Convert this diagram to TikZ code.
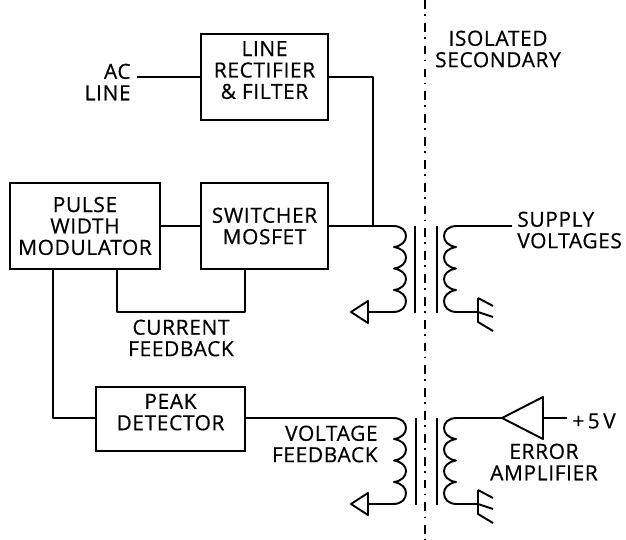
\documentclass[tikz,border=0pt]{standalone}
\usepackage{fontspec}
\setmainfont[LetterSpace=3,FakeBold=0.5]{Open Sans}
\usetikzlibrary{positioning}

\tikzset{
    block/.style={draw, line width=1.1pt, align=center, inner sep=0pt, outer sep=0pt, anchor=north west},
    label/.style={align=center, inner sep=0pt, font=\fontsize{11.9}{12.2}\selectfont},
    wire/.style={line width=1.1pt, line join=round},
    pics/winding/.style={code={
        \draw[wire] (0,0) .. controls (9,0) and (13,5) .. (13,10) .. controls (13,15) and (9,20) .. (1,21)
            \foreach \i in {1,2}{ .. controls (9,21.5*\i+1) and (13,21.5*\i+5) .. (13,21.5*\i+10) .. controls (13,21.5*\i+15) and (9,21.5*\i+20) .. (1,21.5*\i+21) }
            .. controls (9,65.5) and (13,70) .. (13,75) .. controls (13,81) and (9,86) .. (0,86);
    }},
    pics/earth/.style={code={
        \draw[wire] (0,-14) -- (0,10) -- (15,19);
        \draw[wire] (0,-14) -- (15,-6);
        \draw[wire] (0,0) -- (15,5);
    }},
    pics/returntip/.style={code={
        \draw[wire] (0,-11) -- (0,11) -- (-17,0) -- cycle;
    }},
}

\begin{document}
\begin{tikzpicture}[x=0.02cm, y=-0.02cm]
    \useasboundingbox (0,0) rectangle (626,540);

    % Blocks
    \node[block, label, minimum width=127*0.02cm, minimum height=86*0.02cm] (rectifier) at (201,34) {LINE\\RECTIFIER\\\& FILTER\\[-0.15cm]\mbox{}};
    \node[block, label, minimum width=150*0.02cm, minimum height=86*0.02cm] (modulator) at (10,183) {PULSE\\WIDTH\\MODULATOR};
    \node[block, label, minimum width=127*0.02cm, minimum height=86*0.02cm] (switcher) at (201,183) {SWITCHER\\MOSFET};
    \node[block, label, minimum width=149*0.02cm, minimum height=64*0.02cm] (detector) at (96,387) {PEAK\\DETECTOR\\[-0.15cm]\mbox{}};

    % Labels
    \node[label, align=right, anchor=east] (acline) at (131,82) {AC\\LINE};
    \node[label] (isolated) at (498,49) {ISOLATED\\SECONDARY};
    \node[label, align=left, anchor=west] (supply) at (517,230) {SUPPLY\\VOLTAGES};
    \node[label] (current) at (181,338) {CURRENT\\FEEDBACK};
    \node[label, align=right, anchor=east] (voltage) at (378,444) {VOLTAGE\\FEEDBACK};
    \node[label] (error) at (544,462) {ERROR\\AMPLIFIER};
    \node[label, anchor=west] (plusfive) at (572,421) {+\,5\,V};

    % Isolation line
    \draw[line width=1pt, dash pattern=on 5pt off 3pt on 1pt off 4pt] (425,0) -- (425,540);

    % Upper transformer
    \coordinate (priTop) at (393,226);
    \coordinate (priEnd) at (393,312);
    \coordinate (secTop) at (457,226);
    \coordinate (secEnd) at (457,312);
    \pic at (priTop) {winding};
    \pic[xscale=-1] at (secTop) {winding};
    \draw[wire] (415,226) -- (415,313);
    \draw[wire] (437,226) -- (437,313);

    % Lower transformer
    \coordinate (fbTop) at (393,418);
    \coordinate (fbEnd) at (393,504);
    \coordinate (ampTop) at (457,418);
    \coordinate (ampEnd) at (457,504);
    \pic at (fbTop) {winding};
    \pic[xscale=-1] at (ampTop) {winding};
    \draw[wire] (416,418) -- (416,505);
    \draw[wire] (437,418) -- (437,505);

    % Returns
    \coordinate (tipA) at (368,312);
    \coordinate (tipB) at (368,504);
    \coordinate (earthA) at (478,312);
    \coordinate (earthB) at (478,504);
    \pic at (tipA) {returntip};
    \pic at (tipB) {returntip};
    \pic at (earthA) {earth};
    \pic at (earthB) {earth};
    \draw[wire] (priEnd) -- (tipA);
    \draw[wire] (fbEnd) -- (tipB);
    \draw[wire] (secEnd) -- (earthA);
    \draw[wire] (ampEnd) -- (earthB);

    % Amplifier
    \coordinate (ampTip) at (502,418);
    \coordinate (ampOut) at (543,418);
    \coordinate (plusEnd) at (567,418);
    \draw[wire] (ampTip) -- (543,397) -- (543,439) -- cycle;
    \draw[wire] (ampOut) -- (plusEnd);
    \draw[wire] (ampTop) -- (ampTip);

    % Connections
    \coordinate (acStart) at (137,77);
    \coordinate (junction) at (373,226);
    \coordinate (supplyEnd) at (512,226);
    \coordinate (fbLeft) at (117,312);
    \coordinate (fbRight) at (245,312);
    \draw[wire] (acStart) -- (acStart -| rectifier.west);
    \draw[wire] (acStart -| rectifier.east) -| (junction);
    \draw[wire] (modulator.east |- priTop) -- (switcher.west |- priTop);
    \draw[wire] (switcher.east |- priTop) -- (priTop);
    \draw[wire] (secTop) -- (supplyEnd);
    \draw[wire] (fbLeft |- modulator.south) -- (fbLeft) -- (fbRight) -- (fbRight |- switcher.south);
    \draw[wire] (53,269) |- (detector.west |- fbTop);
    \draw[wire] (detector.east |- fbTop) -- (fbTop);
\end{tikzpicture}
\end{document}
